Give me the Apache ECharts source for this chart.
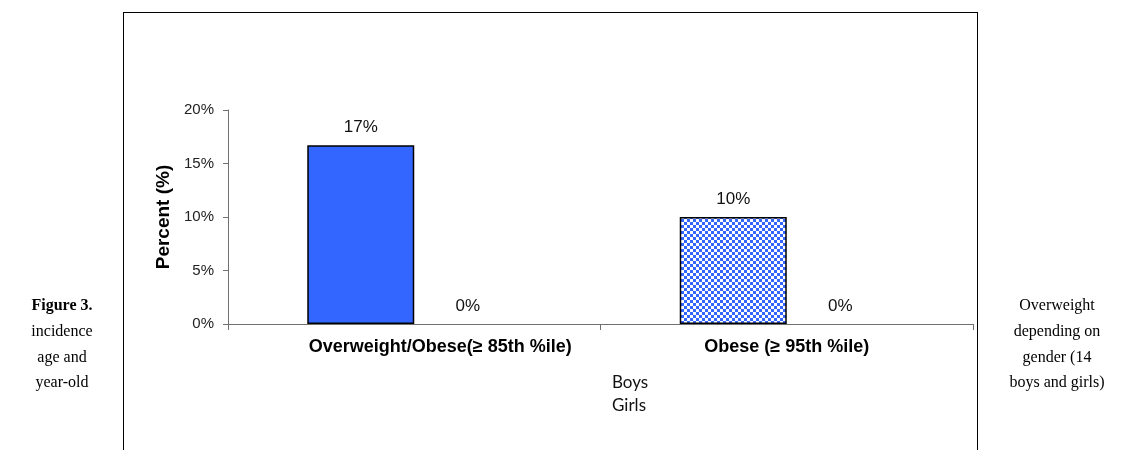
<!DOCTYPE html>
<html>
<head>
<meta charset="utf-8">
<script src="https://cdn.jsdelivr.net/npm/echarts@6/dist/echarts.min.js"></script>
<style>
html,body{margin:0;padding:0;background:#fff;}
#chart{width:1137px;height:450px;}
</style>
</head>
<body>
<div id="chart"></div>
<script>
// ---- data ----
const categories = ['Overweight/Obese(\u2265 85th %ile)', 'Obese (\u2265 95th %ile)'];
const boys = [16.7, 10];
const girls = [0, 0];
const yTicks = { min: 0, max: 20, interval: 5 };
const seriesNames = ['Boys', 'Girls'];
const leftCaption = ['Figure 3.', 'incidence', 'age and', 'year-old'];
const rightCaption = ['Overweight', 'depending on', 'gender (14', 'boys and girls)'];

// checkered pattern for the second bar
function checker() {
  const s = 3;
  const c = document.createElement('canvas');
  c.width = 2 * s; c.height = 2 * s;
  const g = c.getContext('2d');
  g.fillStyle = '#ffffff'; g.fillRect(0, 0, 2 * s, 2 * s);
  g.fillStyle = '#3366FF';
  g.fillRect(0, 0, s, s); g.fillRect(s, s, s, s);
  return c;
}
const solidStyle = { color: '#3366FF', borderColor: '#000', borderWidth: 1.5 };
const checkStyle = { color: { image: checker(), repeat: 'repeat' }, borderColor: '#000', borderWidth: 1.5 };

const chart = echarts.init(document.getElementById('chart'), null, { renderer: 'canvas' });

const labelCfg = {
  show: true, position: 'top', distance: 9,
  fontFamily: 'Liberation Sans, Arial', fontSize: 17, color: '#111',
  formatter: p => Math.round(p.value) + '%'
};

const captionFont = 'Liberation Serif, Times New Roman, serif';
const graphics = [
  { type: 'line', shape: { x1: 123, y1: 12.5, x2: 977, y2: 12.5 }, style: { stroke: '#000', lineWidth: 1 } },
  { type: 'line', shape: { x1: 123.5, y1: 12, x2: 123.5, y2: 450 }, style: { stroke: '#000', lineWidth: 1 } },
  { type: 'line', shape: { x1: 977.5, y1: 12, x2: 977.5, y2: 450 }, style: { stroke: '#000', lineWidth: 1 } }
];
leftCaption.forEach((t, i) => graphics.push({
  type: 'text', x: 62, y: 306 + i * 25.7,
  style: { text: t, fill: '#000', font: (i === 0 ? 'bold ' : '') + '16px ' + captionFont, textAlign: 'center', textVerticalAlign: 'middle' }
}));
rightCaption.forEach((t, i) => graphics.push({
  type: 'text', x: 1057, y: 306 + i * 25.7,
  style: { text: t, fill: '#000', font: '16px ' + captionFont, textAlign: 'center', textVerticalAlign: 'middle' }
}));

chart.setOption({
  animation: false,
  backgroundColor: '#fff',
  grid: { left: 228, right: 164, top: 110, bottom: 126, containLabel: false },
  legend: {
    data: seriesNames,
    orient: 'vertical',
    left: 601, top: 369,
    icon: 'rect', itemWidth: 0, itemHeight: 0, itemGap: 6,
    textStyle: { fontFamily: 'Lato, Carlito, Calibri, sans-serif', fontSize: 17, color: '#111' },
    selectedMode: false
  },
  xAxis: {
    type: 'category',
    data: categories,
    boundaryGap: true,
    axisLine: { lineStyle: { color: '#707070', width: 1 } },
    axisTick: { show: true, interval: 0, alignWithLabel: false, length: 6, lineStyle: { color: '#707070' } },
    axisLabel: {
      interval: 0, hideOverlap: false,
      fontFamily: 'Liberation Sans, Arial', fontWeight: 'bold', fontSize: 18, color: '#000', margin: 14,
      formatter: (v, i) => i === 0 ? '{s|' + v + '}' : v,
      rich: { s: { fontFamily: 'Liberation Sans, Arial', fontWeight: 'bold', fontSize: 18, color: '#000', padding: [0, 0, 0, 52] } }
    },
    splitLine: { show: false }
  },
  yAxis: {
    type: 'value',
    min: yTicks.min, max: yTicks.max, interval: yTicks.interval,
    name: 'Percent (%)',
    nameLocation: 'middle',
    nameGap: 53,
    nameTextStyle: { fontFamily: 'Liberation Sans, Arial', fontWeight: 'bold', fontSize: 19, color: '#000' },
    axisLine: { show: true, lineStyle: { color: '#707070', width: 1 } },
    axisTick: { show: true, length: 5, lineStyle: { color: '#707070' } },
    axisLabel: { formatter: '{value}%', fontFamily: 'Liberation Sans, Arial', fontSize: 15, color: '#222', margin: 14 },
    splitLine: { show: false }
  },
  series: [
    {
      name: seriesNames[0], type: 'bar',
      data: boys.map((v, i) => ({ value: v, itemStyle: i === 0 ? solidStyle : checkStyle })),
      barWidth: 107, barGap: '0%',
      itemStyle: solidStyle,
      label: labelCfg
    },
    {
      name: seriesNames[1], type: 'bar',
      data: girls,
      barWidth: 107, barGap: '0%',
      itemStyle: { color: '#ffffff', borderWidth: 0 },
      label: labelCfg
    }
  ],
  graphic: graphics
});
</script>
</body>
</html>
